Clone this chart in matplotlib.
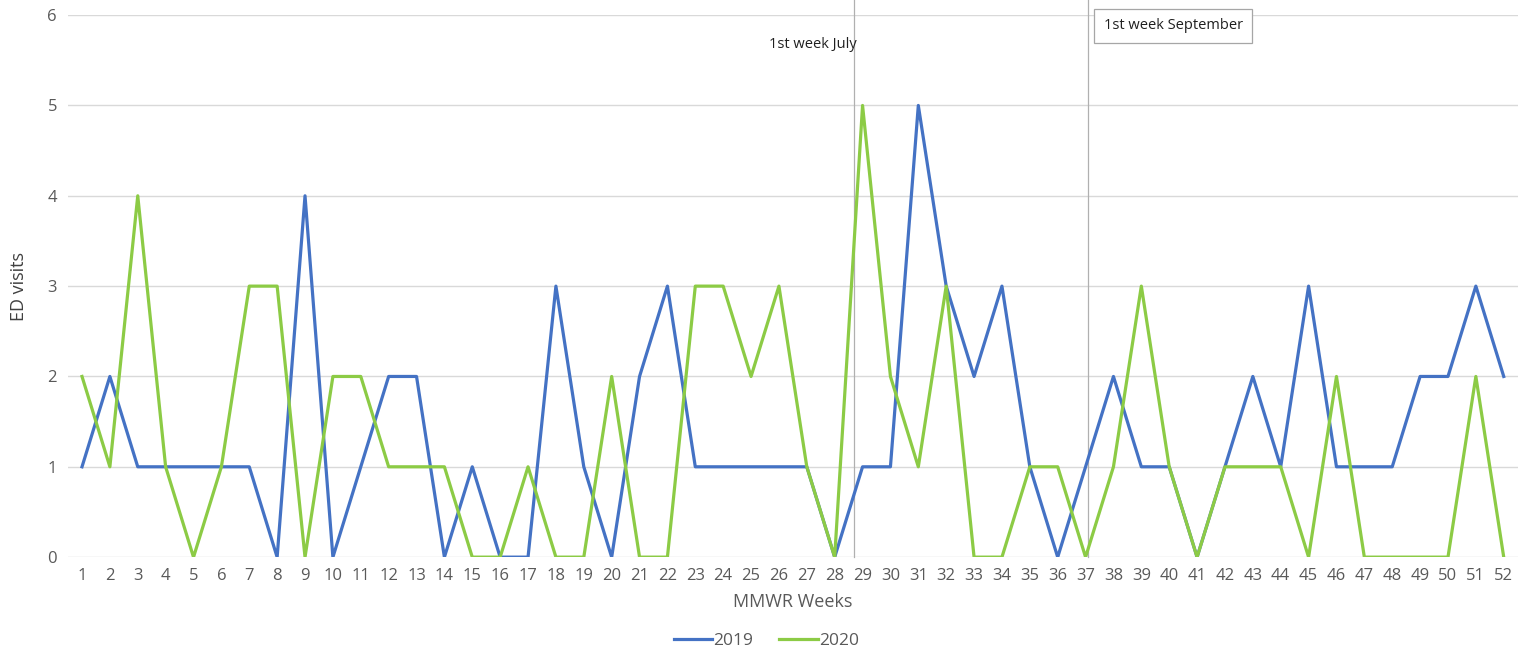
import numpy as np
import matplotlib.pyplot as plt

weeks = list(range(1, 53))
visits_2019 = [1, 2, 1, 1, 1, 1, 1, 0, 4, 0, 1, 2, 2, 0, 1, 0, 0, 3, 1, 0,
               2, 3, 1, 1, 1, 1, 1, 0, 1, 1, 5, 3, 2, 3, 1, 0, 1, 2, 1, 1,
               0, 1, 2, 1, 3, 1, 1, 1, 2, 2, 3, 2]
visits_2020 = [2, 1, 4, 1, 0, 1, 3, 3, 0, 2, 2, 1, 1, 1, 0, 0, 1, 0, 0, 2,
               0, 0, 3, 3, 2, 3, 1, 0, 5, 2, 1, 3, 0, 0, 1, 1, 0, 1, 3, 1,
               0, 1, 1, 1, 0, 2, 0, 0, 0, 0, 2, 0]
markers = [28.7, 37.1]
marker_labels = ['1st week July', '1st week September']

plt.rcParams['font.family'] = ['Open Sans', 'DejaVu Sans']

fig = plt.figure(figsize=(15.33, 6.57), dpi=100)
ax = fig.add_axes([0.0444, 0.152, 0.9456, 0.825])

ax.plot(weeks, visits_2019, color='#4472C4', lw=2.3, label='2019')
ax.plot(weeks, visits_2020, color='#8CCB45', lw=2.3, label='2020')

ax.set_xlim(0.5, 52.5)
ax.set_ylim(0, 6)
ax.set_xticks(weeks)
ax.set_yticks(range(7))
ax.tick_params(length=0, labelsize=12, colors='#595959', pad=8)
ax.grid(axis='y', color='#d9d9d9', lw=1)
ax.set_axisbelow(True)
for s in ax.spines.values():
    s.set_visible(False)

ax.set_xlabel('MMWR Weeks', fontsize=13, color='#595959', labelpad=6)
ax.set_ylabel('ED visits', fontsize=13, color='#404040', labelpad=14)

# reference lines, running up past the top gridline
for m in markers:
    ax.axvline(m, ymax=1.03, color='#b0b0b0', lw=0.9, zorder=1, clip_on=False)
ax.text(markers[0] - 1.5, 5.68, marker_labels[0], ha='center', va='center',
        fontsize=10.5, color='#202020')
ax.text(markers[1] + 0.55, 5.88, marker_labels[1], ha='left', va='center',
        fontsize=10.5, color='#202020',
        bbox=dict(boxstyle='square,pad=0.65', fc='white', ec='#a6a6a6', lw=0.9))

fig.legend(loc='lower center', bbox_to_anchor=(0.5, -0.012), ncol=2,
           frameon=False, fontsize=12.5, handlelength=2.2, handletextpad=0.1,
           columnspacing=1.5, labelcolor='#595959')

fig.savefig('out.png', dpi=100)
